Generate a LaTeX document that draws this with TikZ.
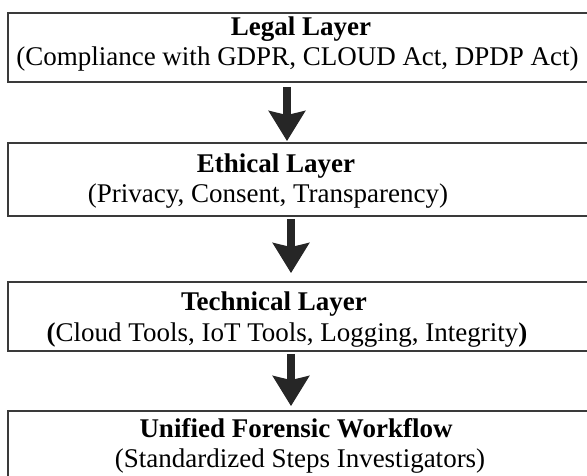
\documentclass[tikz,border=0pt]{standalone}
\usepackage{fontspec}
\setmainfont{Liberation Serif}
\usetikzlibrary{arrows.meta,calc}
\definecolor{boxline}{HTML}{3A3A3A}
\definecolor{arrowcol}{HTML}{262626}
\begin{document}
\begin{tikzpicture}[x=1pt,y=-1pt,
  layerbox/.style={draw=boxline,line width=1.8pt,rectangle,inner sep=0pt,minimum width=592pt},
  titletext/.style={anchor=base,inner sep=0pt,font=\fontsize{27pt}{30pt}\selectfont\bfseries},
  subtext/.style={anchor=base,inner sep=0pt,font=\fontsize{27pt}{30pt}\selectfont},
  flowarrow/.style={draw=arrowcol,line width=8pt,-{Stealth[length=30pt,width=36pt,inset=4pt]},shorten >=0pt}]
\useasboundingbox (0,0) rectangle (587,476);
\clip (0,0) rectangle (587,476);
% boxes
\node[layerbox,minimum height=69pt] (b1) at (304,47.5) {};
\node[layerbox,minimum height=73pt] (b2) at (304,179.5) {};
\node[layerbox,minimum height=69pt] (b3) at (304,316.5) {};
\node[layerbox,minimum height=79pt] (b4) at (304,450.5) {};
% texts
\node[titletext] (t1) at (301,36) {Legal Layer};
\node[subtext] (s1) at (297.5,66) {(Compliance with GDPR, CLOUD Act, DPDP Act)};
\node[titletext] (t2) at (276,173) {Ethical Layer};
\node[subtext] (s2) at (268,203) {(Privacy, Consent, Transparency)};
\node[titletext] (t3) at (274,310) {Technical Layer};
\node[subtext] (s3) at (287,341) {\textbf{(}Cloud Tools, IoT Tools, Logging, Integrity\textbf{)}};
\node[titletext] (t4) at (296,437) {Unified Forensic Workflow};
\node[subtext] (s4) at (300,467) {(Standardized Steps Investigators)};
% arrows
\coordinate (xa) at (287,0);
\coordinate (xb) at (291,0);
\draw[flowarrow] ($(b1.south -| xa)+(0,4)$) -- ($(b2.north -| xa)+(0,-1)$);
\draw[flowarrow] ($(b2.south -| xb)+(0,2)$) -- ($(b3.north -| xb)+(0,-8)$);
\draw[flowarrow] ($(b3.south -| xb)+(0,2)$) -- ($(b4.north -| xb)+(0,-4)$);
\end{tikzpicture}
\end{document}
